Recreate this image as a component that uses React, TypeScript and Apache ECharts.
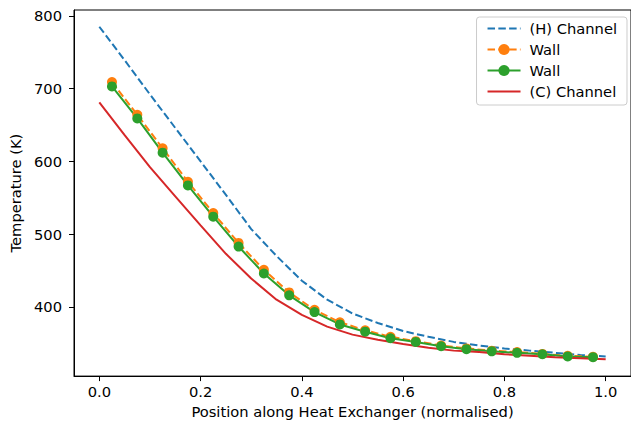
import React, { useEffect, useRef } from "react";
import * as echarts from "echarts";

const xChannel = [0, 0.05, 0.1, 0.15, 0.2, 0.25, 0.3, 0.35, 0.4, 0.45, 0.5, 0.55, 0.6, 0.65, 0.7, 0.75, 0.8, 0.85, 0.9, 0.95, 1.0];
const hotChannel = [785, 739, 692, 646, 600, 554, 507, 470, 436, 410, 391, 378, 367, 359, 352, 347, 343, 340, 337, 334, 332];
const coldChannel = [681, 636, 592, 552, 512, 473, 439, 410, 389, 373, 362, 355, 349, 344, 340, 338, 335, 333, 331, 329.5, 328];

const xWall = [0.025, 0.075, 0.125, 0.175, 0.225, 0.275, 0.325, 0.375, 0.425, 0.475, 0.525, 0.575, 0.625, 0.675, 0.725, 0.775, 0.825, 0.875, 0.925, 0.975];
const wallHot = [709, 664, 618, 572, 529, 488, 451, 420, 396, 379, 368, 359, 353, 347, 343, 340, 338, 335.5, 333, 331.5];
const wallCold = [703, 659, 612, 567, 524, 483, 446, 416, 393, 376, 366, 357, 352, 346, 342, 339, 337, 335, 332, 331];

const xTicks = [0, 0.2, 0.4, 0.6, 0.8, 1.0];
const yTicks = [400, 500, 600, 700, 800];

const pair = (xs: number[], ys: number[]) => xs.map((x, i) => [x, ys[i]]);

const FONT = "DejaVu Sans";
const FS = 14.7;

export default function App() {
  const ref = useRef<HTMLDivElement>(null);
  useEffect(() => {
    if (!ref.current) return;
    const chart = echarts.init(ref.current, undefined, { renderer: "svg" });
    chart.setOption({
      animation: false,
      backgroundColor: "#ffffff",
      textStyle: { fontFamily: FONT },
      grid: { left: 74, top: 10, width: 559.5, height: 368.5, show: true, borderColor: "#000", borderWidth: 1, containLabel: false },
      legend: {
        orient: "vertical",
        right: 4,
        top: 17,
        padding: [4, 10, 6, 10],
        itemWidth: 33,
        itemHeight: 14,
        itemGap: 6,
        borderColor: "#cccccc",
        borderWidth: 1,
        borderRadius: 3,
        backgroundColor: "rgba(255,255,255,0.8)",
        textStyle: { fontFamily: FONT, fontSize: FS, color: "#000", padding: [0, 0, 0, 4] },
        formatter: (n: string) => n.trim(),
        data: [
          { name: "(H) Channel", itemStyle: { opacity: 0 } },
          { name: "Wall" },
          { name: "Wall " },
          { name: "(C) Channel", itemStyle: { opacity: 0 } },
        ],
      },
      xAxis: {
        type: "value",
        min: -0.05,
        max: 1.05,
        name: "Position along Heat Exchanger (normalised)",
        nameLocation: "middle",
        nameGap: 24,
        nameTextStyle: { fontFamily: FONT, fontSize: FS, color: "#000" },
        splitLine: { show: false },
        axisLine: { show: true, onZero: false, lineStyle: { color: "#000", width: 1 } },
        axisTick: { show: true, length: 5, customValues: xTicks, lineStyle: { color: "#000" } },
        axisLabel: { customValues: xTicks, margin: 8, fontFamily: FONT, fontSize: FS, color: "#000", formatter: (v: number) => v.toFixed(1) },
      },
      yAxis: {
        type: "value",
        min: 305,
        max: 808,
        name: "Temperature (K)",
        nameLocation: "middle",
        nameGap: 46,
        nameTextStyle: { fontFamily: FONT, fontSize: FS, color: "#000" },
        splitLine: { show: false },
        axisLine: { show: true, onZero: false, lineStyle: { color: "#000", width: 1 } },
        axisTick: { show: true, length: 5, customValues: yTicks, lineStyle: { color: "#000" } },
        axisLabel: { customValues: yTicks, margin: 12, fontFamily: FONT, fontSize: FS, color: "#000" },
      },
      series: [
        {
          name: "(H) Channel",
          type: "line",
          data: pair(xChannel, hotChannel),
          symbol: "none",
          lineStyle: { color: "#1f77b4", width: 2, type: [7.5, 3.3] },
          itemStyle: { color: "#1f77b4" },
        },
        {
          name: "Wall",
          type: "line",
          data: pair(xWall, wallHot),
          symbol: "circle",
          symbolSize: 10,
          showSymbol: true,
          lineStyle: { color: "#ff7f0e", width: 2, type: [7.5, 3.3] },
          itemStyle: { color: "#ff7f0e" },
        },
        {
          name: "Wall ",
          type: "line",
          data: pair(xWall, wallCold),
          symbol: "circle",
          symbolSize: 10,
          showSymbol: true,
          lineStyle: { color: "#2ca02c", width: 2 },
          itemStyle: { color: "#2ca02c" },
        },
        {
          name: "(C) Channel",
          type: "line",
          data: pair(xChannel, coldChannel),
          symbol: "none",
          lineStyle: { color: "#d62728", width: 2 },
          itemStyle: { color: "#d62728" },
        },
      ],
    });
    return () => chart.dispose();
  }, []);
  return <div ref={ref} style={{ width: 631, height: 424, position: "absolute", left: 0, top: 0 }} />;
}
